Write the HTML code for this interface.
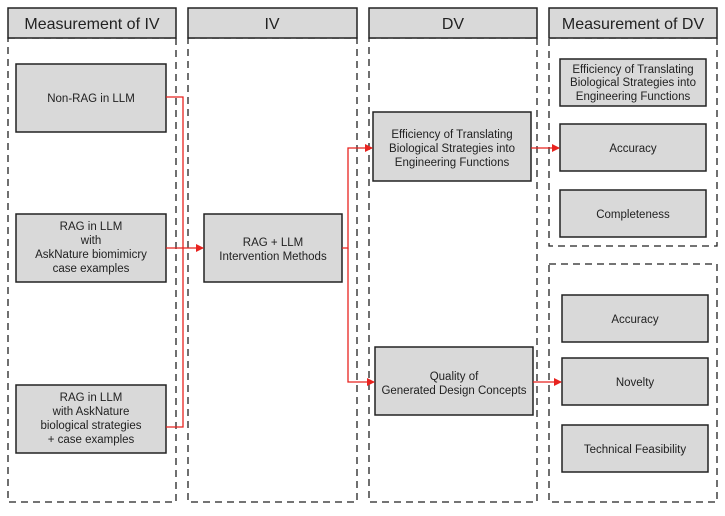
<!DOCTYPE html>
<html><head><style>
body{margin:0;background:#fff;width:725px;height:511px;overflow:hidden;}
svg text{font-family:"Liberation Sans",sans-serif;fill:#222;}
</style></head><body>
<svg width="725" height="511" xmlns="http://www.w3.org/2000/svg">
<defs><marker id="a" markerWidth="8" markerHeight="8" refX="7" refY="4" orient="auto" markerUnits="userSpaceOnUse"><path d="M0,0 L8,4 L0,8 z" fill="#e8231f"/></marker></defs>
<g fill="none" stroke="#222" stroke-width="1.3" stroke-dasharray="7,5">
<rect x="8" y="38" width="168" height="464"/>
<rect x="188" y="38" width="169" height="464"/>
<rect x="369" y="38" width="168" height="464"/>
<rect x="549" y="38" width="168" height="208"/>
<rect x="549" y="264" width="168" height="238"/>
</g>
<g fill="#d9d9d9" stroke="#222" stroke-width="1.5">
<rect x="8" y="8" width="168" height="30"/>
<rect x="188" y="8" width="169" height="30"/>
<rect x="369" y="8" width="168" height="30"/>
<rect x="549" y="8" width="168" height="30"/>
<rect x="16" y="64" width="150" height="68"/>
<rect x="16" y="214" width="150" height="68"/>
<rect x="16" y="385" width="150" height="68"/>
<rect x="204" y="214" width="138" height="68"/>
<rect x="373" y="112" width="158" height="69"/>
<rect x="375" y="347" width="158" height="68"/>
<rect x="560" y="59" width="146" height="47"/>
<rect x="560" y="124" width="146" height="47"/>
<rect x="560" y="190" width="146" height="47"/>
<rect x="562" y="295" width="146" height="47"/>
<rect x="562" y="358" width="146" height="47"/>
<rect x="562" y="425" width="146" height="47"/>
</g>
<g fill="none" stroke="#e8231f" stroke-width="1.3">
<path d="M166,97 H183 V427 H166"/>
<path d="M166,248 H203" marker-end="url(#a)"/>
<path d="M342,248 H348 V148 H372" marker-end="url(#a)"/>
<path d="M348,248 V382 H374" marker-end="url(#a)"/>
<path d="M531,148 H559" marker-end="url(#a)"/>
<path d="M533,382 H561" marker-end="url(#a)"/>
</g>
<g font-size="16" text-anchor="middle">
<text x="92" y="29">Measurement of IV</text>
<text x="272" y="29">IV</text>
<text x="453" y="29">DV</text>
<text x="633" y="29">Measurement of DV</text>
</g>
<g font-size="11.5" text-anchor="middle">
<text x="91" y="102">Non-RAG in LLM</text>
<text x="91" y="230">RAG in LLM</text>
<text x="91" y="244">with</text>
<text x="91" y="258">AskNature biomimicry</text>
<text x="91" y="272">case examples</text>
<text x="91" y="401">RAG in LLM</text>
<text x="91" y="415">with AskNature</text>
<text x="91" y="429">biological strategies</text>
<text x="91" y="443">+ case examples</text>
<text x="273" y="246">RAG + LLM</text>
<text x="273" y="260">Intervention Methods</text>
<text x="452" y="138">Efficiency of Translating</text>
<text x="452" y="152">Biological Strategies into</text>
<text x="452" y="166">Engineering Functions</text>
<text x="454" y="380">Quality of</text>
<text x="454" y="394">Generated Design Concepts</text>
<text x="633" y="73">Efficiency of Translating</text>
<text x="633" y="86">Biological Strategies into</text>
<text x="633" y="100">Engineering Functions</text>
<text x="633" y="152">Accuracy</text>
<text x="633" y="218">Completeness</text>
<text x="635" y="323">Accuracy</text>
<text x="635" y="386">Novelty</text>
<text x="635" y="453">Technical Feasibility</text>
</g>
</svg>
</body></html>
